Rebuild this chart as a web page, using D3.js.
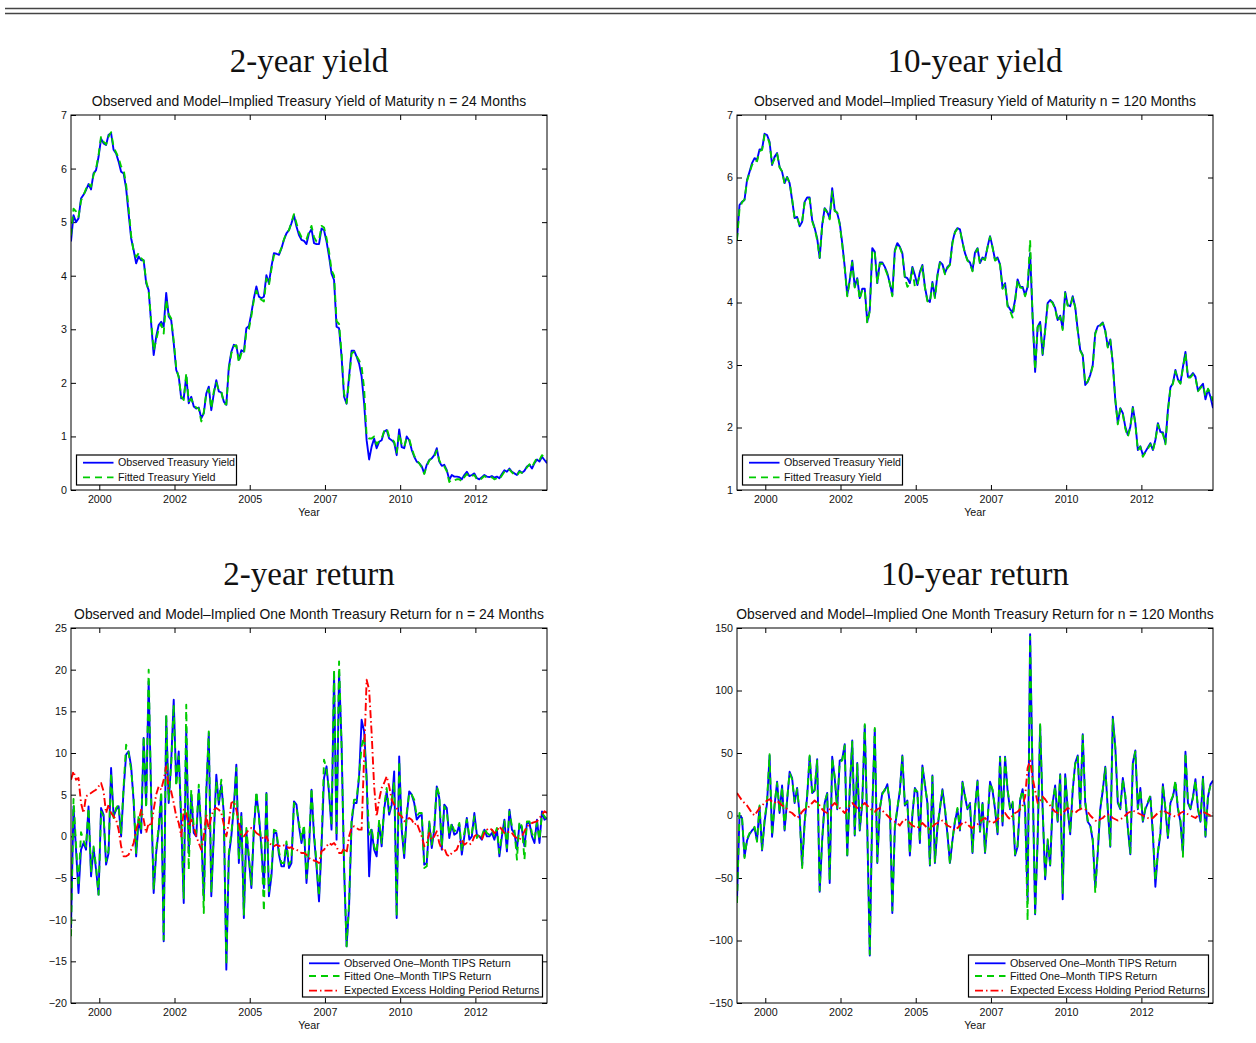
<!DOCTYPE html>
<html>
<head>
<meta charset="utf-8">
<script src="https://cdn.jsdelivr.net/npm/d3@7"></script>
<style>
  body { margin: 0; background: #fff; }
  svg { display: block; }
</style>
</head>
<body>
<svg id="fig" width="1256" height="1043"></svg>
<script>
// Monthly sample span (fractional years) and the date ticks on every x axis
const firstMonth = 1999.06;
const lastMonth = 2014.88;
const yearTicks = [2000, 2002.5, 2005, 2007.5, 2010, 2012.5];
const yearTickLabels = ["2000", "2002", "2005", "2007", "2010", "2012"];

// 2-year yield, observed and fitted (percent)
const yield2Observed = [
  4.64,5.13,5.00,5.07,5.44,5.51,5.60,5.71,5.61,5.91,
  5.97,6.22,6.56,6.47,6.44,6.63,6.66,6.35,6.28,6.13,
  5.94,5.91,5.63,5.16,4.70,4.48,4.23,4.36,4.29,4.29,
  3.86,3.73,3.11,2.52,2.86,3.08,3.14,3.05,3.68,3.24,
  3.17,2.74,2.24,2.12,1.71,1.71,2.12,1.62,1.74,1.56,
  1.52,1.54,1.34,1.43,1.80,1.93,1.49,1.80,2.05,1.84,
  1.82,1.65,1.59,2.30,2.58,2.71,2.69,2.43,2.61,2.58,
  3.02,3.06,3.30,3.58,3.80,3.61,3.58,3.61,4.01,3.86,
  4.17,4.42,4.41,4.39,4.51,4.67,4.79,4.85,4.98,5.13,
  4.92,4.76,4.67,4.65,4.59,4.79,4.87,4.61,4.59,4.59,
  4.88,4.85,4.64,4.36,4.04,3.92,3.05,3.02,2.49,1.74,
  1.61,2.12,2.60,2.60,2.49,2.36,2.12,1.62,0.93,0.57,
  0.81,0.96,0.78,0.90,0.93,1.09,1.12,0.96,0.93,0.88,
  0.65,1.13,0.80,0.78,1.00,0.93,0.75,0.62,0.53,0.50,
  0.44,0.31,0.47,0.56,0.59,0.65,0.78,0.53,0.45,0.47,
  0.37,0.19,0.28,0.25,0.25,0.24,0.20,0.28,0.34,0.26,
  0.28,0.31,0.22,0.20,0.24,0.28,0.25,0.24,0.26,0.23,
  0.25,0.22,0.30,0.37,0.34,0.40,0.34,0.31,0.28,0.36,
  0.32,0.36,0.44,0.47,0.40,0.50,0.57,0.53,0.62,0.56,
  0.50
];
const yield2Fitted = [
  4.75,5.25,5.20,5.10,5.40,5.50,5.62,5.72,5.66,5.88,
  6.00,6.25,6.60,6.50,6.45,6.60,6.68,6.40,6.30,6.20,
  6.04,5.98,5.70,5.25,4.75,4.45,4.35,4.42,4.33,4.28,
  3.90,3.72,3.15,2.60,2.80,3.00,3.10,2.92,3.55,3.28,
  3.20,2.78,2.28,2.10,1.75,1.68,2.18,1.66,1.70,1.58,
  1.54,1.52,1.28,1.45,1.82,1.88,1.52,1.84,2.00,1.86,
  1.84,1.62,1.60,2.25,2.55,2.68,2.70,2.38,2.55,2.52,
  2.96,3.00,3.25,3.55,3.72,3.60,3.55,3.52,3.95,3.82,
  4.12,4.38,4.40,4.40,4.52,4.68,4.80,4.85,5.00,5.15,
  4.98,4.82,4.72,4.70,4.68,4.82,4.93,4.72,4.64,4.66,
  4.93,4.90,4.70,4.45,4.10,4.00,3.15,3.10,2.55,1.80,
  1.62,2.05,2.55,2.58,2.50,2.42,2.30,1.90,1.00,0.96,
  0.96,1.00,0.85,0.92,0.96,1.10,1.15,1.00,0.96,0.90,
  0.70,1.05,0.85,0.80,0.98,0.95,0.78,0.64,0.55,0.50,
  0.42,0.30,0.45,0.55,0.60,0.62,0.74,0.56,0.45,0.44,
  0.35,0.15,0.20,0.18,0.20,0.20,0.16,0.24,0.30,0.24,
  0.26,0.28,0.20,0.18,0.22,0.26,0.23,0.22,0.24,0.20,
  0.22,0.20,0.27,0.34,0.33,0.38,0.33,0.28,0.27,0.34,
  0.32,0.36,0.42,0.48,0.42,0.52,0.60,0.56,0.65,0.60,
  0.55
];

// 10-year yield, observed and fitted (percent)
const yield10Observed = [
  5.03,5.56,5.61,5.64,5.96,6.09,6.23,6.31,6.28,6.45,
  6.45,6.70,6.68,6.57,6.20,6.33,6.39,6.17,6.09,5.91,
  6.01,5.91,5.64,5.35,5.37,5.22,5.29,5.61,5.68,5.68,
  5.32,5.19,5.03,4.71,5.24,5.51,5.45,5.35,5.83,5.48,
  5.43,5.27,4.95,4.57,4.12,4.36,4.67,4.25,4.39,4.07,
  4.22,4.22,3.69,3.88,4.87,4.81,4.31,4.64,4.64,4.57,
  4.47,4.31,4.12,4.84,4.95,4.89,4.79,4.41,4.39,4.31,
  4.57,4.44,4.28,4.49,4.60,4.25,4.04,4.01,4.33,4.09,
  4.44,4.65,4.61,4.47,4.57,4.61,4.97,5.13,5.19,5.17,
  4.97,4.79,4.68,4.64,4.51,4.80,4.87,4.63,4.72,4.69,
  4.89,5.06,4.89,4.68,4.72,4.61,4.23,4.31,3.96,3.89,
  3.84,4.04,4.37,4.25,4.25,4.12,4.25,4.79,3.77,2.89,
  3.61,3.69,3.16,3.56,3.99,4.04,4.00,3.91,3.72,3.79,
  3.59,4.17,3.96,3.94,4.10,3.93,3.56,3.24,3.16,2.68,
  2.73,2.84,3.00,3.51,3.62,3.64,3.68,3.55,3.29,3.41,
  3.03,2.44,2.07,2.31,2.23,2.01,1.88,2.01,2.33,2.07,
  1.64,1.70,1.56,1.61,1.68,1.75,1.64,1.80,2.07,1.93,
  1.92,1.75,2.28,2.64,2.71,2.92,2.77,2.71,2.97,3.21,
  2.81,2.82,2.87,2.81,2.59,2.65,2.70,2.45,2.61,2.49,
  2.31
];
const yield10Fitted = [
  5.00,5.50,5.60,5.65,5.94,6.08,6.20,6.28,6.26,6.42,
  6.44,6.68,6.66,6.55,6.22,6.30,6.38,6.16,6.10,5.90,
  6.00,5.92,5.66,5.34,5.36,5.24,5.30,5.60,5.66,5.66,
  5.30,5.18,5.00,4.72,5.22,5.50,5.44,5.33,5.78,5.46,
  5.44,5.25,4.93,4.55,4.10,4.34,4.64,4.24,4.37,4.05,
  4.20,4.20,3.67,3.86,4.84,4.80,4.30,4.62,4.62,4.55,
  4.45,4.30,4.10,4.82,4.93,4.88,4.77,4.40,4.25,4.30,
  4.55,4.25,4.27,4.47,4.58,4.24,4.02,4.00,4.30,4.07,
  4.42,4.63,4.60,4.45,4.55,4.60,4.95,5.12,5.18,5.16,
  4.96,4.78,4.67,4.63,4.50,4.78,4.86,4.62,4.70,4.68,
  4.88,5.05,4.88,4.67,4.70,4.60,4.22,4.30,3.94,3.87,
  3.76,4.02,4.36,4.24,4.23,4.10,4.23,5.00,3.75,2.92,
  3.60,3.68,3.18,3.55,3.97,4.03,3.99,3.90,3.70,3.77,
  3.56,4.15,3.95,3.93,4.08,3.92,3.55,3.23,3.15,2.69,
  2.74,2.83,2.98,3.50,3.60,3.63,3.67,3.54,3.28,3.40,
  3.02,2.45,2.05,2.30,2.21,1.98,1.85,2.00,2.31,2.06,
  1.63,1.69,1.53,1.60,1.66,1.73,1.63,1.79,2.05,1.92,
  1.90,1.73,2.26,2.62,2.70,2.90,2.76,2.70,2.95,3.19,
  2.80,2.80,2.85,2.80,2.58,2.63,2.68,2.50,2.62,2.55,
  2.42
];

// One-month returns on the 2-year bond: observed, fitted, expected excess
const return2Observed = [
  -11,3.6,-1.6,-6.8,-1.6,-0.8,-1.6,3.6,-4.8,-1.4,
  -4,-7,3.4,2.6,-3.4,-2,8.2,2.4,3.2,3.6,
  0,5.6,9.8,10.2,8.4,4.2,-2.4,2,0.4,11.8,
  3.8,18.6,4.8,-6.8,-2,0.8,5,-12.6,14.4,4,
  9,16.4,6.4,10.2,1.6,-8,13,-2,5,0.4,
  0,5.6,0.4,-7.6,5.2,12.4,-7.2,0,7.4,3.8,
  6.2,2.8,-16,-2.4,0,3.6,8.6,-3.2,2.8,-9.8,
  0.6,-2.8,-6.2,0.8,5,2.6,-1.4,-6.2,5.2,-7.2,
  -4.8,0.4,0.4,-2.2,-3.6,-3.6,-1,-3.8,-3.2,4.2,
  3.8,1.2,-0.8,1,-5.6,-1.6,5.6,0,-3.6,-7.8,
  -1.2,7,8.4,5.2,0.8,19.6,-0.4,19.8,11.2,-3.8,
  -13.2,-8.4,1.6,4,4,7.2,14,12.6,7.2,-4.8,
  0.8,-1.6,-2.4,1.6,-1.2,3.2,5.4,2.6,3.8,7.8,
  -9.8,9.6,0.8,-2.6,2.4,5.4,5,4,2,2.4,
  2.6,-3.4,-3.2,1.6,-1.4,0.8,6,4.6,-1.6,3.8,
  3.4,-0.2,1.4,0.2,0.4,1.4,-2.2,0,2.2,-0.4,
  0,2.8,0.2,0,-0.4,0.8,0,0,0.4,-0.4,
  0.8,-2.4,0,2,-1.8,3.2,0.8,0.4,-1.6,1.4,
  0.8,-1.2,1.6,1.6,0,-0.8,2,-0.8,3,2,
  2.2
];
const return2Fitted = [
  -12,4.5,-1,-6,0.5,-0.5,-1.2,3.4,-4.2,-1.2,
  -3.6,-7,3,2.4,-3,-1.6,7.6,2.2,3.4,3.8,
  0.4,6,11,10,8,4.6,-2,2.6,0.8,12,
  3.4,20,4.4,-6.4,-1.6,1.2,5.4,-12.4,14.6,4.4,
  8.6,15.8,6,9.6,2,-7.4,15.8,-4,5.6,1,
  0.4,6.2,0.8,-9.2,5.6,12.6,-6.8,0.6,6.6,4.2,
  6.8,2.4,-15.4,-2,0.4,3.2,8.2,-2.8,2.6,-9.4,
  1,-2.4,-5.8,1.2,5.4,2.2,-1,-9,5.4,-6.6,
  -4.4,0.8,0.6,-1.8,-3.2,-3.2,-0.6,-3.4,-2.8,4,
  3.4,1.6,-0.4,1.4,-5,-1.2,5.8,0.4,-3.2,-7.2,
  -0.8,9.2,8,5.6,1.2,20,0,21,10.8,-3.4,
  -13.2,-8,2,4.4,4.4,7.4,10.8,12,6.6,0.2,
  1,-1.2,-2,2,-0.8,3.6,5.8,3,4.2,6.6,
  -9.6,9,1.2,-2.2,2.8,5.2,5,4.4,2.4,2.8,
  2.8,-3.8,-3.6,1.8,-1,1.2,6,5,-1.2,3.6,
  3,0.2,1.6,0.6,0.8,1.6,-1.8,0.4,2,0,
  0.4,2.4,-0.2,0.4,0,1,0.4,0.2,0.8,0,
  1,-2,0.4,1.8,-1.4,3,1.2,0.8,-2.8,1.8,
  1.2,-2.8,1.8,1.8,0.4,-0.4,1.6,-0.4,2.8,2.4,
  2
];
const return2Expected = [
  6.8,7.8,6.8,7,4,2.8,4.8,5,5.2,5.4,
  5.6,6,6.4,5.4,2.8,3.8,2.8,2.4,2,0.8,
  -1.2,-2.4,-2.4,-2.2,-1.6,-0.8,0.8,1.8,3.2,2,
  0.4,1.6,1.2,3.2,5,6,5.6,6.8,8.4,5.6,
  5.4,4,2.4,1.6,0,3.2,2.8,1.2,2,1,
  0,-0.8,-1.6,0,2.6,0.8,2.4,3.2,3.4,3.2,
  2.8,1.4,0,1.6,4,4.2,3.2,1.6,0,0,
  0.4,0.8,1,0.8,0.4,0.2,0,-0.4,0,-0.8,
  -1,-1.2,-1,-1.2,-1,-1.1,-1.2,-1.4,-1.3,-1.6,
  -1.6,-1.8,-2,-2,-2.2,-2.6,-2.8,-2.9,-3,-3.2,
  -1.8,-1.6,-1.2,-0.8,-1,-0.8,-1.2,-2,-2,-1.4,
  -2,0,1,1.2,1,0.8,0.8,9.6,18.8,17.6,
  12.4,6,2.4,4.4,5.8,6.4,7.2,6,4.4,3.8,
  3.4,2.6,2.4,1.8,2,2.2,2,1.4,1.6,0.8,
  0,-1.2,-0.8,0.4,-0.4,0,0.6,-0.8,-1.6,-1.4,
  -2.2,-2.4,-2,-1.8,-1.6,-0.8,-0.4,-1,-0.8,-1,
  -0.8,0,0.2,0,-0.4,0.4,0.8,1,0.8,0.4,
  0.6,1.2,0.8,0.4,0.4,0.6,0.4,0,-0.2,-0.4,
  0,0.6,1.2,1.4,1.6,1.7,1.8,2.2,2.6,3,
  2.8
];

// One-month returns on the 10-year bond: observed, fitted, expected excess
const return10Observed = [
  -68,0,-2,-33,-20,-15,-12,-10,-20,7,
  -28,-5,10,48,-17,8,27,2,24,-12,
  12,35,30,10,22,0,-40,-5,15,47,
  18,20,45,-61,-20,10,18,-54,47,30,
  5,44,45,57,-32,20,60,-16,42,-12,
  10,72,-10,-112,5,69,-38,5,18,20,
  25,10,-78,-10,5,20,48,8,12,-32,
  0,22,18,-22,40,25,10,-40,32,-38,
  -10,5,21,5,-15,-38,-20,-5,5,-12,
  27,15,5,10,-30,5,28,-13,10,-30,
  -5,27,20,5,-15,47,-8,47,20,5,
  10,-32,-25,12,21,5,-68,145,30,-79,
  -20,72,5,-51,-20,-40,10,24,-5,33,
  -67,33,5,-15,20,42,48,5,65,10,
  -5,-8,-20,-57,-30,5,20,39,5,-25,
  79,55,10,5,30,15,-10,-31,42,52,
  5,22,-5,5,10,15,-15,-57,-30,-15,
  25,5,-18,10,15,26,5,-5,-30,51,
  10,5,15,29,5,-5,31,-17,15,25,
  28
];
const return10Fitted = [
  -70,2,-1,-34,-19,-14,-13,-9,-21,8,
  -27,-4,12,49,-16,9,26,3,23,-11,
  13,34,29,11,21,1,-42,-6,16,48,
  17,21,44,-60,-19,11,17,-52,46,31,
  6,43,44,56,-34,21,59,-15,41,-11,
  11,73,-9,-111,6,70,-37,6,17,21,
  24,11,-76,-9,6,19,47,9,11,-31,
  1,21,19,-21,39,24,11,-39,31,-37,
  -9,6,20,6,-14,-39,-19,-4,6,-11,
  26,16,6,9,-29,6,27,-12,11,-29,
  -4,26,21,6,-14,46,-7,46,21,6,
  11,-31,-24,13,20,6,-84,143,29,-78,
  -19,73,6,-50,-19,-39,11,23,-4,32,
  -62,32,6,-14,21,41,47,6,64,11,
  -4,-7,-19,-62,-29,6,21,38,6,-24,
  77,54,11,6,29,16,-9,-30,41,51,
  6,21,-4,6,11,16,-14,-52,-29,-14,
  24,6,-17,11,16,28,6,-4,-33,50,
  11,6,14,28,6,-4,30,-16,16,24,
  27
];
const return10Expected = [
  18,15,12,10,8,5,2,0,3,6,
  8,10,12,13,11,10,12,10,8,7,
  5,3,2,0,-2,0,3,5,5,8,
  10,12,10,8,5,3,2,5,8,10,
  8,6,4,2,5,8,10,8,6,5,
  8,10,8,6,4,3,5,6,4,2,
  0,-2,-4,-5,-6,-8,-5,-3,-4,-6,
  -8,-9,-10,-8,-6,-8,-10,-11,-9,-7,
  -6,-5,-4,-6,-8,-9,-10,-12,-10,-8,
  -6,-5,-7,-9,-10,-8,-7,-5,-3,-2,
  -4,-5,-6,-5,-3,-1,0,2,-1,-3,
  0,2,3,5,8,15,38,44,30,20,
  10,12,15,13,10,8,5,3,2,0,
  2,4,6,5,3,2,4,5,6,5,
  3,0,-2,-4,-5,-3,-2,0,1,0,
  -2,-3,-4,-3,-2,0,2,3,4,3,
  2,1,0,-1,-2,-3,-2,0,2,3,
  4,3,2,1,0,-1,0,2,3,2,
  1,0,-1,-2,0,2,3,2,1,0,
  2
];

// Legend labels and y tick values
const yieldLegend = ["Observed Treasury Yield", "Fitted Treasury Yield"];
const returnLegend = ["Observed One\u2013Month TIPS Return", "Fitted One\u2013Month TIPS Return", "Expected Excess Holding Period Returns"];
const yield2Ticks = [0, 1, 2, 3, 4, 5, 6, 7];
const yield10Ticks = [1, 2, 3, 4, 5, 6, 7];
const return2Ticks = [-20, -15, -10, -5, 0, 5, 10, 15, 20, 25];
const return10Ticks = [-150, -100, -50, 0, 50, 100, 150];

// ---- drawing -------------------------------------------------------------
const svg = d3.select("#fig");
const sans = "'Liberation Sans', Arial, Helvetica, sans-serif";
const serif = "'Liberation Serif', 'Times New Roman', serif";
const plotW = 476, plotH = 375;

const styles = {
  observed: { color: "#0000ff", dash: null },
  fitted:   { color: "#00cc00", dash: "7,5" },
  expected: { color: "#ff0000", dash: "8,3,1.5,3" }
};

// double rule across the top of the page
[8.5, 13.5].forEach(yy => {
  svg.append("line").attr("x1", 5).attr("x2", 1256).attr("y1", yy).attr("y2", yy)
    .attr("stroke", "#444").attr("stroke-width", 1.3);
});

const panels = [
  { left: 71, top: 115, heading: "2-year yield", headingY: 72,
    subtitle: "Observed and Model\u2013Implied Treasury Yield of Maturity n = 24 Months",
    yDomain: [0, 7], yTicks: yield2Ticks,
    series: [["observed", yield2Observed], ["fitted", yield2Fitted]],
    legend: yieldLegend, legendSide: "left" },
  { left: 737, top: 115, heading: "10-year yield", headingY: 72,
    subtitle: "Observed and Model\u2013Implied Treasury Yield of Maturity n = 120 Months",
    yDomain: [1, 7], yTicks: yield10Ticks,
    series: [["observed", yield10Observed], ["fitted", yield10Fitted]],
    legend: yieldLegend, legendSide: "left" },
  { left: 71, top: 628, heading: "2-year return", headingY: 585,
    subtitle: "Observed and Model\u2013Implied One Month Treasury Return for n = 24 Months",
    yDomain: [-20, 25], yTicks: return2Ticks,
    series: [["observed", return2Observed], ["fitted", return2Fitted], ["expected", return2Expected]],
    legend: returnLegend, legendSide: "right" },
  { left: 737, top: 628, heading: "10-year return", headingY: 585,
    subtitle: "Observed and Model\u2013Implied One Month Treasury Return for n = 120 Months",
    yDomain: [-150, 150], yTicks: return10Ticks,
    series: [["observed", return10Observed], ["fitted", return10Fitted], ["expected", return10Expected]],
    legend: returnLegend, legendSide: "right" }
];

const fmtTick = d => (d < 0 ? "\u2212" + Math.abs(d) : String(d));

panels.forEach((p, k) => {
  const x = d3.scaleLinear().domain([firstMonth, lastMonth]).range([0, plotW]);
  const y = d3.scaleLinear().domain(p.yDomain).range([plotH, 0]);
  const g = svg.append("g").attr("transform", `translate(${p.left},${p.top})`);

  // headings
  svg.append("text").attr("x", p.left + plotW / 2).attr("y", p.headingY)
    .attr("text-anchor", "middle").attr("font-family", serif).attr("font-size", 33)
    .attr("fill", "#111").text(p.heading);
  g.append("text").attr("x", plotW / 2).attr("y", -9)
    .attr("text-anchor", "middle").attr("font-family", sans).attr("font-size", 13.9)
    .attr("fill", "#111").text(p.subtitle);

  // white plot area
  g.append("rect").attr("width", plotW).attr("height", plotH).attr("fill", "#fff");

  // axes with inward ticks on all four sides
  const bottom = g.append("g").attr("transform", `translate(0,${plotH})`)
    .call(d3.axisBottom(x).tickValues(yearTicks).tickFormat((d, i) => yearTickLabels[i])
      .tickSizeInner(-5).tickSizeOuter(0).tickPadding(5.5));
  const top = g.append("g")
    .call(d3.axisTop(x).tickValues(yearTicks).tickFormat("").tickSizeInner(-5).tickSizeOuter(0));
  const leftAx = g.append("g")
    .call(d3.axisLeft(y).tickValues(p.yTicks).tickFormat(fmtTick)
      .tickSizeInner(-5).tickSizeOuter(0).tickPadding(4));
  const rightAx = g.append("g").attr("transform", `translate(${plotW},0)`)
    .call(d3.axisRight(y).tickValues(p.yTicks).tickFormat("").tickSizeInner(-5).tickSizeOuter(0));
  [bottom, top, leftAx, rightAx].forEach(a => {
    a.select(".domain").remove();
    a.selectAll(".tick line").attr("stroke", "#000").attr("stroke-width", 1);
    a.selectAll("text").attr("font-family", sans).attr("font-size", 10.7).attr("fill", "#111");
  });

  g.append("text").attr("x", plotW / 2).attr("y", plotH + 26)
    .attr("text-anchor", "middle").attr("font-family", sans).attr("font-size", 10.7)
    .attr("fill", "#111").text("Year");

  // series
  const clipId = "clip" + k;
  g.append("clipPath").attr("id", clipId).append("rect").attr("width", plotW).attr("height", plotH);
  const lines = g.append("g").attr("clip-path", `url(#${clipId})`);
  p.series.forEach(([kind, values]) => {
    const step = (lastMonth - firstMonth) / (values.length - 1);
    const line = d3.line().x((d, i) => x(firstMonth + i * step)).y(d => y(d));
    lines.append("path").datum(values).attr("d", line)
      .attr("fill", "none").attr("stroke", styles[kind].color)
      .attr("stroke-width", 1.9).attr("stroke-linejoin", "round")
      .attr("stroke-dasharray", styles[kind].dash);
  });

  // frame
  g.append("rect").attr("x", 0).attr("y", 0).attr("width", plotW).attr("height", plotH)
    .attr("fill", "none").attr("stroke", "#000").attr("stroke-width", 1);

  // legend
  const kinds = p.series.map(s => s[0]);
  let lg, lw, lh, rows;
  if (p.legendSide === "left") {
    lw = 160; lh = 30; rows = [7.7, 22.3];
    lg = g.append("g").attr("transform", `translate(5.5,${plotH - lh - 5})`);
  } else {
    lw = 240; lh = 42; rows = [8.3, 21, 35.7];
    lg = g.append("g").attr("transform", `translate(${plotW - lw - 4.5},${plotH - lh - 6})`);
  }
  lg.append("rect").attr("width", lw).attr("height", lh)
    .attr("fill", "#fff").attr("stroke", "#000").attr("stroke-width", 1.2);
  kinds.forEach((kind, i) => {
    lg.append("line").attr("x1", 6.5).attr("x2", 37).attr("y1", rows[i]).attr("y2", rows[i])
      .attr("stroke", styles[kind].color).attr("stroke-width", 1.8)
      .attr("stroke-dasharray", styles[kind].dash);
    lg.append("text").attr("x", 41.5).attr("y", rows[i]).attr("dy", "0.35em")
      .attr("font-family", sans).attr("font-size", 10.7).attr("fill", "#111")
      .text(p.legend[i]);
  });
});
</script>
</body>
</html>
